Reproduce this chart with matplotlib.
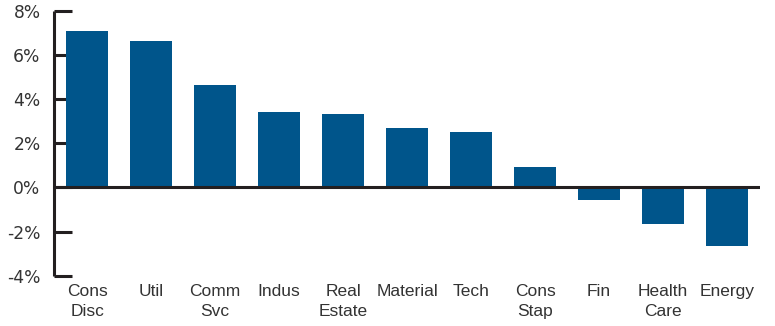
import numpy as np
import matplotlib.pyplot as plt
from matplotlib.ticker import FuncFormatter

# Datos del gráfico
sectors = ["Cons\nDisc", "Util", "Comm\nSvc", "Indus", "Real\nEstate", "Material",
           "Tech", "Cons\nStap", "Fin", "Health\nCare", "Energy"]
returns = [7.09, 6.64, 4.65, 3.43, 3.33, 2.67, 2.53, 0.94, -0.56, -1.67, -2.67]
yticks = [-4, -2, 0, 2, 4, 6, 8]

BAR_COLOR = "#00558b"
AXIS_COLOR = "#231f20"
TEXT_COLOR = "#333333"

fig = plt.figure(figsize=(7.75, 3.26), dpi=100)
ax = fig.add_axes([0.0703, 0.154, 0.9107, 0.813])

x = np.arange(len(sectors))
ax.bar(x, returns, width=0.656, color=BAR_COLOR, zorder=2)
ax.axhline(0, color=AXIS_COLOR, linewidth=2.2, zorder=3)

ax.set_xlim(-0.51, len(sectors) - 1 + 0.52)
ax.set_ylim(-4, 8)
ax.set_yticks(yticks)
ax.yaxis.set_major_formatter(FuncFormatter(lambda v, _: f"{v:.0f}%"))
ax.set_xticks(x)
ax.set_xticklabels(sectors, linespacing=1.4, family=["Liberation Sans", "DejaVu Sans"],
                   fontsize=12.5)

ax.tick_params(axis="y", direction="in", length=13, width=2.2, color=AXIS_COLOR,
               labelsize=12.3, labelcolor=TEXT_COLOR, pad=10)
ax.tick_params(axis="x", length=0, labelcolor=TEXT_COLOR, pad=6)

for side in ["top", "right", "bottom"]:
    ax.spines[side].set_visible(False)
ax.spines["left"].set_linewidth(2.2)
ax.spines["left"].set_color(AXIS_COLOR)
ax.spines["left"].set_capstyle("butt")

plt.savefig("out.png", dpi=100)
plt.close()
